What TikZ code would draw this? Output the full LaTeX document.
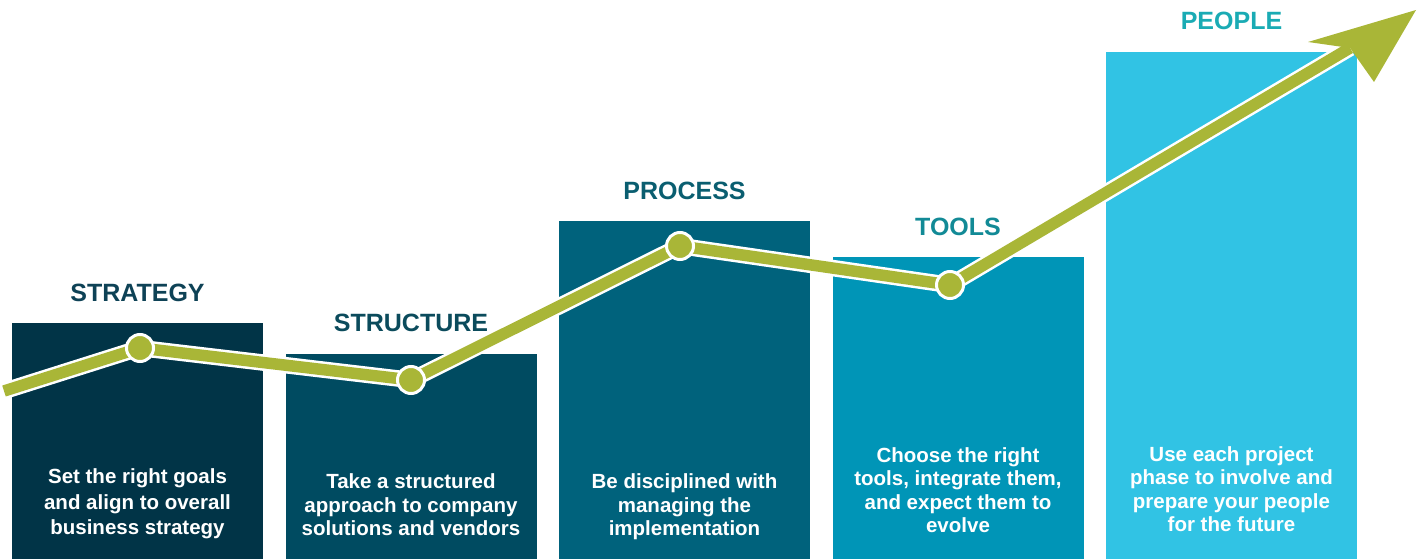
\documentclass[tikz,border=0pt]{standalone}
\usepackage{fontspec}
\setmainfont{Liberation Sans}
\usepackage{xcolor}
\usepackage{tikz}
\usetikzlibrary{calc}

\definecolor{barA}{HTML}{013447}
\definecolor{barB}{HTML}{004B61}
\definecolor{barC}{HTML}{00627C}
\definecolor{barD}{HTML}{0095B7}
\definecolor{barE}{HTML}{31C3E4}
\definecolor{headA}{HTML}{0E4256}
\definecolor{headB}{HTML}{0B4B5C}
\definecolor{headC}{HTML}{0A5E70}
\definecolor{headD}{HTML}{128A96}
\definecolor{headE}{HTML}{1AABB4}
\definecolor{trendgreen}{HTML}{A9B637}

\tikzset{
	phase/.style={anchor=base,font=\fontsize{25}{29}\selectfont\bfseries},
	blurb/.style={anchor=south,inner sep=0pt,text depth=0pt,align=center,text=white,
		font=\fontsize{20.5}{23.5}\selectfont\bfseries},
	milestone/.style={circle,draw=white,line width=3pt,fill=trendgreen,minimum size=27pt,inner sep=0pt},
	trendwhite/.style={white,line width=16.5pt,line join=round},
	trendline/.style={trendgreen,line width=11.5pt,line join=round}
}

\begin{document}
\begin{tikzpicture}[x=1pt,y=-1pt]
		\useasboundingbox (0,0) rectangle (1422,559);
		\fill[barA] (12,323) rectangle (263,559);
		\fill[barB] (285.5,354) rectangle (536.5,559);
		\fill[barC] (559,221) rectangle (810,559);
		\fill[barD] (832.5,257) rectangle (1083.5,559);
		\fill[barE] (1106,52) rectangle (1357,559);
		\node[phase,text=headA] (strategy) at (137.5,301) {STRATEGY};
		\node[phase,text=headB] (structure) at (411,331) {STRUCTURE};
		\node[phase,text=headC] (process) at (684.5,200) {PROCESS};
		\node[phase,text=headD] (tools) at (958,235) {TOOLS};
		\node[phase,text=headE] (people) at (1231.5,30) {PEOPLE};
		\node[blurb,font=\fontsize{20.5}{25.5}\selectfont\bfseries] (goals) at (137.5,535) {Set the right goals\\and align to overall\\business strategy};
		\node[blurb] (vendors) at (411,536) {Take a structured\\approach to company\\solutions and vendors};
		\node[blurb] (managing) at (684.5,536) {Be disciplined with\\managing the\\implementation};
		\node[blurb] (evolve) at (958,533) {Choose the right\\tools, integrate them,\\and expect them to\\evolve};
		\node[blurb] (future) at (1231.5,532) {Use each project\\phase to involve and\\prepare your people\\for the future};
		\coordinate (start) at (4,391);
		\coordinate (p1) at (140,348);
		\coordinate (p2) at (411,380);
		\coordinate (p3) at (680,246);
		\coordinate (p4) at (950,285);
		\coordinate (notch) at (1350,48);
		\coordinate (tip) at (1416,10);
		\coordinate (barbL) at (1308,42);
		\coordinate (barbR) at (1374,82);
		\draw[trendwhite] (start) -- (p1) -- (p2) -- (p3) -- (p4) -- (notch);
		\draw[trendline] (start) -- (p1) -- (p2) -- (p3) -- (p4) -- (notch);
		\fill[trendgreen] (tip) -- (barbL) -- (notch) -- (barbR) -- cycle;
		\node[milestone] (m1) at (p1) {};
		\node[milestone] (m2) at (p2) {};
		\node[milestone] (m3) at (p3) {};
		\node[milestone] (m4) at (p4) {};
		\end{tikzpicture}
\end{document}
